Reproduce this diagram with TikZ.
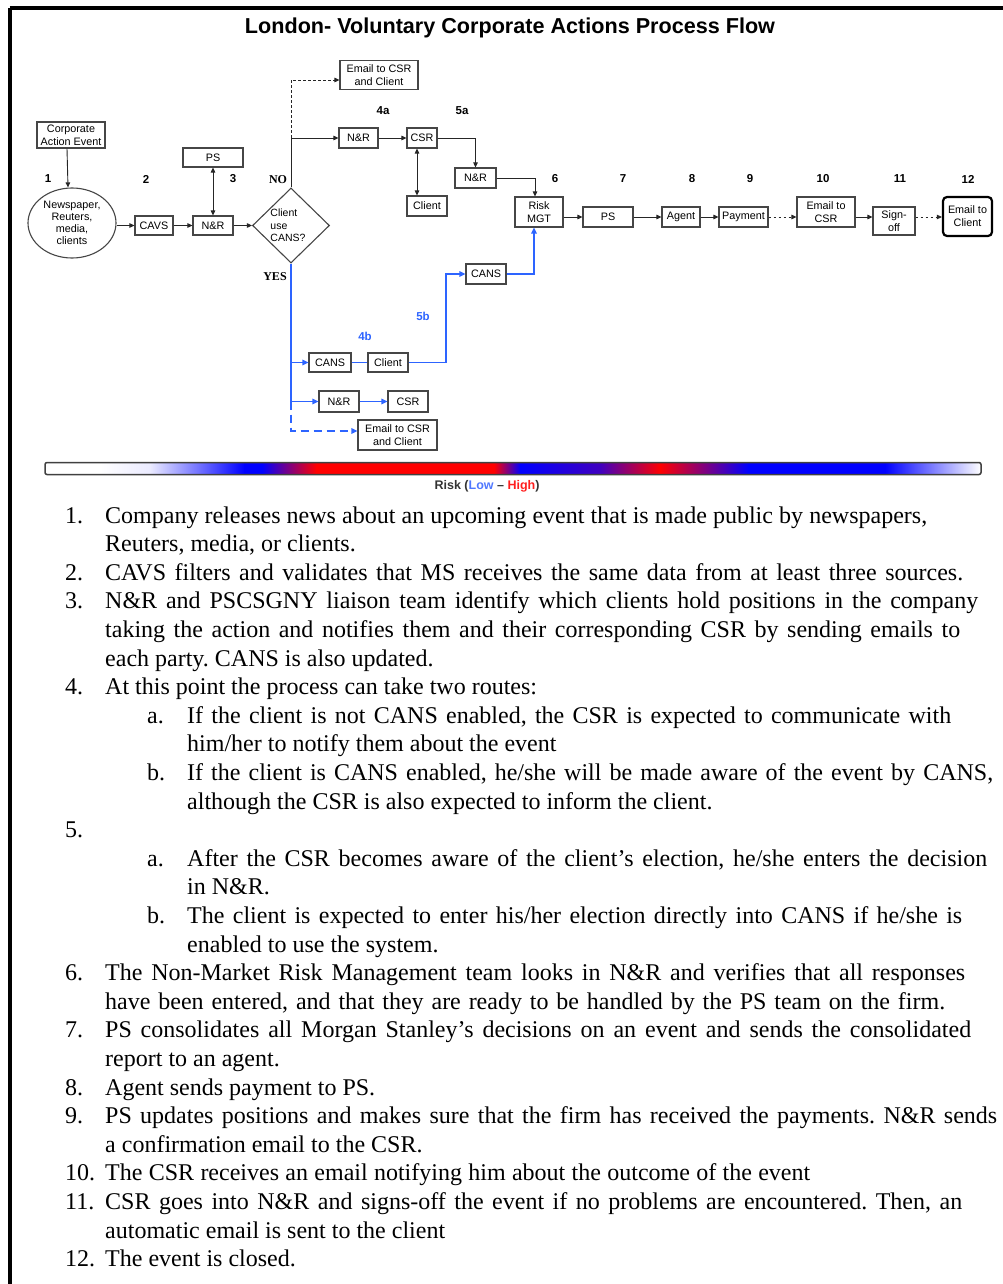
\documentclass[tikz,border=0pt]{standalone}
\usepackage{fontspec}
\setmainfont{Liberation Serif}
\newfontfamily\arialf{Liberation Sans}
\usetikzlibrary{arrows.meta,shapes.geometric,calc}
\frenchspacing
\definecolor{flowblue}{RGB}{45,100,255}
\definecolor{boxgray}{RGB}{70,70,70}
\definecolor{lowblue}{RGB}{80,120,255}
\definecolor{highred}{RGB}{255,30,30}
\tikzset{
  box/.style={draw=boxgray, line width=1.1pt, fill=white, inner sep=0pt,
    font=\arialf\fontsize{10.8}{12.8}\selectfont, align=center},
  sz/.style 2 args={minimum width=#1pt, minimum height=#2pt},
  lbl/.style={font=\arialf\bfseries\fontsize{11.5}{13}\selectfont, inner sep=0pt},
  yn/.style={font=\bfseries\fontsize{12}{13}\selectfont, inner sep=0pt},
  arr/.style={-{Triangle[length=5pt,width=4.5pt]}, line width=0.9pt, draw=black!85},
  darr/.style={{Triangle[length=5pt,width=4.5pt]}-{Triangle[length=5pt,width=4.5pt]}, line width=0.9pt, draw=black!85},
  dotln/.style={dash pattern=on 2.5pt off 2.5pt},
  bl/.style={draw=flowblue, line width=1.8pt},
  blarr/.style={bl, -{Triangle[length=6pt,width=5.5pt]}},
  bldash/.style={blarr, dash pattern=on 8pt off 5pt},
  body/.style={font=\fontsize{24}{28}\selectfont\frenchspacing, anchor=base west, inner sep=0pt},
}
\newcommand\bodyline[3]{\node[body] (bl#2x#1) at (#1,{523+28.6*#2}) {#3};}
\newcommand\bodylinew[4]{\node[body] (bl#2x#1) at (#1,{523+28.6*#2}) {\makebox[\dimexpr #3pt-#1pt\relax][s]{#4}};}
\begin{document}
\begin{tikzpicture}[x=1pt,y=-1pt]
\useasboundingbox (0,0) rectangle (1003,1284);
% frame
\draw[line width=4pt] (9.5,8.5) -- (1003,8.5);
\draw[line width=4pt] (9.5,8.5) -- (9.5,1284);
% title
\node[font=\arialf\bfseries\fontsize{21.6}{24}\selectfont] (title) at (510,28) {London- Voluntary Corporate Actions Process Flow};

% nodes
\node[box, sz={68}{26}] (cae) at (71,135) {Corporate\\Action Event};
\node[box, ellipse, sz={88}{70}, font=\arialf\fontsize{10.8}{12}\selectfont] (ell) at (72,223) {Newspaper,\\Reuters,\\media,\\clients};
\node[box, sz={38}{19}] (cavs) at (154,225.5) {CAVS};
\node[box, sz={40}{19}] (nr1) at (213,225.5) {N\&R};
\node[box, sz={60}{19}] (ps1) at (213,157.5) {PS};
\node[draw=boxgray, line width=1.1pt, diamond, sz={77}{75}, inner sep=0pt] (dia) at (291,225.5) {};
\node[font=\arialf\fontsize{10.5}{12.5}\selectfont, align=left, inner sep=0pt] (diat) at (288,225.5) {Client\\use\\CANS?};
\node[box, sz={78}{29}] (emailA) at (379,75) {Email to CSR\\and Client};
\node[box, sz={39}{20}] (nr4a) at (358.5,138) {N\&R};
\node[box, sz={30}{20}] (csr4a) at (422,138) {CSR};
\node[box, sz={40}{20}] (client4a) at (427,206) {Client};
\node[box, sz={41}{20}] (nr5a) at (475.5,178) {N\&R};
\node[box, sz={48}{30}] (risk) at (539,212) {Risk\\MGT};
\node[box, sz={50}{20}] (ps2) at (608,217) {PS};
\node[box, sz={38}{20}] (agent) at (681,217) {Agent};
\node[box, sz={49}{20}] (payment) at (743.5,217) {Payment};
\node[box, sz={58}{30}] (emailcsr) at (826,212) {Email to\\CSR};
\node[box, sz={42}{28}] (signoff) at (894,221) {Sign-\\off};
\node[box, sz={49}{39}, draw=black, line width=2.2pt, rounded corners=4pt] (emailcl) at (967.5,216.5) {Email to\\Client};
\node[box, sz={42}{19}] (cans4b) at (330,362.5) {CANS};
\node[box, sz={40}{19}] (client4b) at (388,362.5) {Client};
\node[box, sz={40}{20}] (cans5b) at (486,274) {CANS};
\node[box, sz={40}{21}] (nr4b) at (339,401.5) {N\&R};
\node[box, sz={40}{21}] (csr4b) at (408,401.5) {CSR};
\node[box, sz={79}{30}] (emailB) at (397.5,435) {Email to CSR\\and Client};

% step labels
\node[lbl] (n1) at (48,179) {1};
\node[lbl] (n2) at (146,179) {2};
\node[lbl] (n3) at (233,179) {3};
\node[yn] (no) at (278,180) {NO};
\node[yn] (yes) at (275,277) {YES};
\node[lbl] (n4a) at (383,111) {4a};
\node[lbl] (n5a) at (462,111) {5a};
\node[lbl] (n6) at (555,179) {6};
\node[lbl] (n7) at (623,179) {7};
\node[lbl] (n8) at (692,179) {8};
\node[lbl] (n9) at (750,179) {9};
\node[lbl] (n10) at (823,179) {10};
\node[lbl] (n11) at (900,179) {11};
\node[lbl] (n12) at (968,179) {12};
\node[lbl, text=flowblue] (n4b) at (365,336) {4b};
\node[lbl, text=flowblue] (n5b) at (423,316) {5b};

% black connectors
\draw[arr] ([xshift=-4pt]cae.south) -- ([xshift=-4pt]ell.north);
\draw[arr] (ell.east |- cavs.west) -- (cavs.west);
\draw[arr] (cavs) -- (nr1);
\draw[darr] (nr1) -- (ps1);
\draw[arr] (nr1) -- (dia);
\coordinate (nojoin) at (dia.north |- nr4a.west);
\draw[arr] (dia.north) |- (nr4a.west);
\draw[arr, dotln] (nojoin) |- ([yshift=-5pt]emailA.west);
\draw[arr] (nr4a) -- (csr4a);
\draw[darr] ([xshift=-5pt]csr4a.south) -- ([xshift=-5pt]csr4a.south |- client4a.north);
\draw[arr] (csr4a.east) -| (nr5a.north);
\draw[arr] (nr5a.east) -| ([xshift=-4pt]risk.north);
\draw[arr] (risk.east |- ps2.west) -- (ps2.west);
\draw[arr] (ps2) -- (agent);
\draw[arr] (agent) -- (payment);
\draw[arr, dotln] (payment.east) -- (emailcsr.west |- payment.east);
\draw[arr] (emailcsr.east |- payment.east) -- (signoff.west |- payment.east);
\draw[arr, dotln] (signoff.east |- payment.east) -- (emailcl.west |- payment.east);

% blue connectors
\coordinate (t1) at (dia.south |- cans4b.west);
\coordinate (t2) at (dia.south |- nr4b.west);
\coordinate (bend1) at (446,300);
\draw[bl] (dia.south) -- (t2);
\draw[blarr] (t1) -- (cans4b.west);
\draw[blarr] (t2) -- (nr4b.west);
\draw[bl] (cans4b) -- (client4b);
\draw[blarr] (client4b.east) -- (client4b.east -| bend1) |- (cans5b.west);
\draw[blarr] (cans5b.east) -| ([xshift=-5pt]risk.south);
\draw[blarr] (nr4b) -- (csr4b);
\draw[bldash] (t2) |- ([yshift=4pt]emailB.west);

% risk bar
\begin{scope}
\fill[white] (45,463) rectangle (100.6,474);
\fill[left color=white, right color=blue!8] (100,463) rectangle (150.6,474);
\fill[left color=blue!8, right color=blue] (150,463) rectangle (244.6,474);
\fill[blue] (244,463) rectangle (262.6,474);
\fill[left color=blue, right color=red] (262,463) rectangle (316.6,474);
\fill[red] (316,463) rectangle (494.6,474);
\fill[left color=red, right color=blue] (494,463) rectangle (520.6,474);
\fill[left color=blue, right color=blue!75!red] (520,463) rectangle (600.6,474);
\fill[left color=blue!75!red, right color=red] (600,463) rectangle (660.6,474);
\fill[left color=red, right color=blue] (660,463) rectangle (748.6,474);
\fill[blue] (748,463) rectangle (885.6,474);
\fill[left color=blue, right color=white] (885,463) rectangle (981,474);
\end{scope}
\draw[draw=black!75, line width=1.5pt, rounded corners=2pt] (45,462.5) rectangle (981,474.5);
\node[font=\arialf\bfseries\fontsize{12.5}{14}\selectfont, text=black!80] (risklbl) at (487,486)
  {Risk (\textcolor{lowblue}{Low} – \textcolor{highred}{High})};

% body text
\bodyline{65}{0}{1.}
\bodylinew{105}{0}{927}{Company releases news about an upcoming event that is made public by newspapers,}
\bodyline{105}{1}{Reuters, media, or clients.}
\bodyline{65}{2}{2.}
\bodylinew{105}{2}{963}{CAVS filters and validates that MS receives the same data from at least three sources.}
\bodyline{65}{3}{3.}
\bodylinew{105}{3}{978}{N\&R and PSCSGNY liaison team identify which clients hold positions in the company}
\bodylinew{105}{4}{960}{taking the action and notifies them and their corresponding CSR by sending emails to}
\bodyline{105}{5}{each party. CANS is also updated.}
\bodyline{65}{6}{4.}
\bodyline{105}{6}{At this point the process can take two routes:}
\bodyline{147}{7}{a.}
\bodylinew{187}{7}{951}{If the client is not CANS enabled, the CSR is expected to communicate with}
\bodyline{187}{8}{him/her to notify them about the event}
\bodyline{147}{9}{b.}
\bodylinew{187}{9}{993}{If the client is CANS enabled, he/she will be made aware of the event by CANS,}
\bodyline{187}{10}{although the CSR is also expected to inform the client.}
\bodyline{65}{11}{5.}
\bodyline{147}{12}{a.}
\bodylinew{187}{12}{987}{After the CSR becomes aware of the client’s election, he/she enters the decision}
\bodyline{187}{13}{in N\&R.}
\bodyline{147}{14}{b.}
\bodylinew{187}{14}{962}{The client is expected to enter his/her election directly into CANS if he/she is}
\bodyline{187}{15}{enabled to use the system.}
\bodyline{65}{16}{6.}
\bodylinew{105}{16}{965}{The Non-Market Risk Management team looks in N\&R and verifies that all responses}
\bodylinew{105}{17}{945}{have been entered, and that they are ready to be handled by the PS team on the firm.}
\bodyline{65}{18}{7.}
\bodylinew{105}{18}{971}{PS consolidates all Morgan Stanley’s decisions on an event and sends the consolidated}
\bodyline{105}{19}{report to an agent.}
\bodyline{65}{20}{8.}
\bodyline{105}{20}{Agent sends payment to PS.}
\bodyline{65}{21}{9.}
\bodylinew{105}{21}{997}{PS updates positions and makes sure that the firm has received the payments. N\&R sends}
\bodyline{105}{22}{a confirmation email to the CSR.}
\bodyline{65}{23}{10.}
\bodylinew{105}{23}{810}{The CSR receives an email notifying him about the outcome of the event}
\bodyline{65}{24}{11.}
\bodylinew{105}{24}{962}{CSR goes into N\&R and signs-off the event if no problems are encountered. Then, an}
\bodyline{105}{25}{automatic email is sent to the client}
\bodyline{65}{26}{12.}
\bodyline{105}{26}{The event is closed.}
\end{tikzpicture}
\end{document}
